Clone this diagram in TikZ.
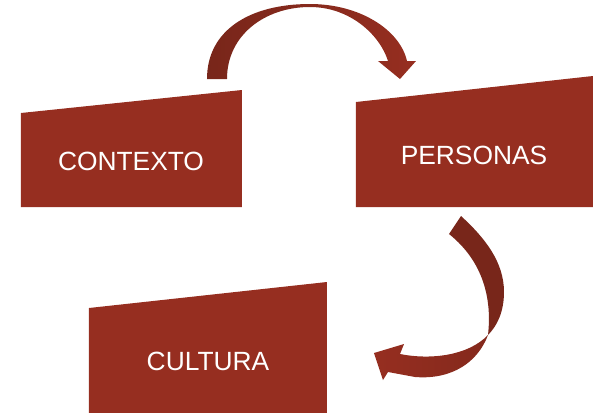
\documentclass[tikz,border=0pt]{standalone}
\usepackage{fontspec}
\setmainfont{Liberation Sans}
\usepackage{xcolor}
\definecolor{boxred}{RGB}{150,46,32}
\definecolor{arrowdark}{RGB}{120,38,26}

\begin{document}
\begin{tikzpicture}[
    x=0.02cm, y=-0.02cm,
    block/.style={
        fill=boxred,
        draw=none
    },
    label/.style={
        text=white,
        font=\fontsize{15}{18}\selectfont,
        inner sep=0pt
    }
]
    \useasboundingbox (0,0) rectangle (600,413);
    \clip (0,0) rectangle (600,413);

    % Contexto
    \fill[block] (21,113) -- (242,90) -- (242,207) -- (21,207) -- cycle;
    \node[label] (contexto) at (131,161) {CONTEXTO};

    % Personas
    \fill[block] (356,102) -- (593,76) -- (593,207) -- (356,207) -- cycle;
    \node[label] (personas) at (474,155) {PERSONAS};

    % Cultura
    \fill[block] (89,308) -- (327,282) -- (327,413) -- (89,413) -- cycle;
    \node[label] (cultura) at (208,361) {CULTURA};

    % Arrow: contexto -> personas
    \shade[left color=arrowdark, right color=boxred]
        (207,79) .. controls (207,30) and (250,4) .. (310,4)
        .. controls (360,4) and (400,30) .. (407,61)
        -- (416,61) -- (400,79) -- (378,61) -- (388,61)
        .. controls (380,35) and (350,7) .. (310,7)
        .. controls (265,7) and (227,35) .. (227,79) -- cycle;

    % Arrow: personas -> cultura (upper part)
    \fill[arrowdark]
        (461,216) .. controls (485,238) and (504,262) .. (504,292)
        .. controls (504,312) and (497,326) .. (488,335)
        .. controls (492,300) and (484,262) .. (449,234) -- cycle;

    % Arrow: personas -> cultura (lower part)
    \shade[left color=boxred, right color=arrowdark!60!boxred]
        (488,335) .. controls (478,362) and (452,380) .. (415,377)
        -- (388,372) -- (383,380) -- (374,353) -- (404,344) -- (400,354)
        .. controls (430,360) and (468,356) .. (488,335) -- cycle;
\end{tikzpicture}
\end{document}
